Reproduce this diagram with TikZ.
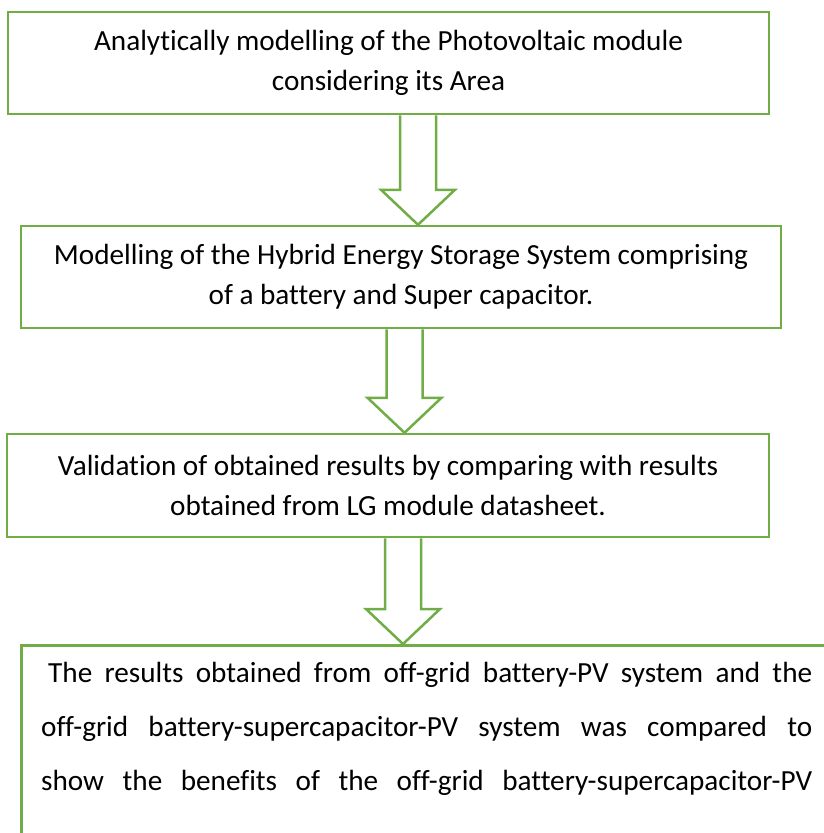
\documentclass[tikz,border=0pt]{standalone}
\usepackage{fontspec}
\setmainfont{Carlito}[Ligatures={NoCommon}]
\usetikzlibrary{calc}
\definecolor{boxgreen}{HTML}{70AD47}

% Hollow block arrow from the bottom of #1 to the top of #2, centred at x = #3
\newcommand\blockarrow[3]{%
  \draw[arrowline] let \p1=(#1.south), \p2=(#2.north) in
    (#3pt-18pt,\y1) -- (#3pt-18pt,\y2+35pt) -- (#3pt-37pt,\y2+35pt)
    -- (#3pt,\y2) -- (#3pt+37pt,\y2+35pt) -- (#3pt+18pt,\y2+35pt)
    -- (#3pt+18pt,\y1);%
}

\begin{document}
\begin{tikzpicture}[x=1pt,y=-1pt,
  flowbox/.style={draw=boxgreen, line width=2.5pt, rectangle, inner sep=0pt,
    align=center, font=\fontsize{29.2}{40}\selectfont},
  arrowline/.style={draw=boxgreen, line width=2.5pt, line join=miter}]
\useasboundingbox (0,0) rectangle (824,833);
\clip (0,0) rectangle (824,833);

\node[flowbox, minimum width=761pt, minimum height=102pt] (b1) at (388.5,63)
  {Analytically modelling of the Photovoltaic module\\considering its Area};
\node[flowbox, minimum width=760pt, minimum height=102pt] (b2) at (401,277)
  {Modelling of the Hybrid Energy Storage System comprising\\of a battery and Super capacitor.};
\node[flowbox, minimum width=762pt, minimum height=103pt] (b3) at (388,485.5)
  {Validation of obtained results by comparing with results\\obtained from LG module datasheet.};
\node[flowbox, anchor=north west, minimum width=900pt, minimum height=300pt] (b4) at (20,644) {};

% justified paragraph; its base anchor sits on the last line
\node[anchor=base west, align=left, inner sep=0pt, font=\fontsize{29.2}{54}\selectfont] (t4) at (41,790)
  {\hspace*{7pt}\makebox[764pt][s]{The results obtained from off-grid battery-PV system and the}\\
   \makebox[771pt][s]{off-grid battery-supercapacitor-PV system was compared to}\\
   \makebox[771pt][s]{show the benefits of the off-grid battery-supercapacitor-PV}};

\blockarrow{b1}{b2}{418}
\blockarrow{b2}{b3}{404.5}
\blockarrow{b3}{b4}{403}
\end{tikzpicture}
\end{document}
